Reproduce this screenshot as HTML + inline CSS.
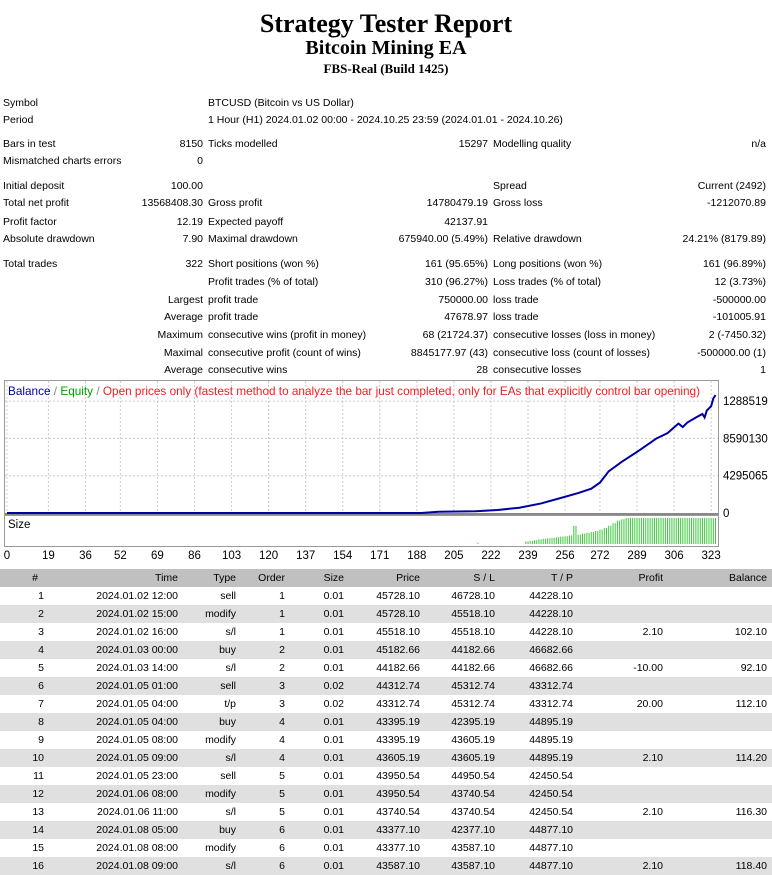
<!DOCTYPE html>
<html><head><meta charset="utf-8">
<style>
body{margin:0;width:772px;height:872px;overflow:hidden;background:#fff;font-family:"Liberation Sans",sans-serif;position:relative}
.t{position:absolute;font-size:10.5px;white-space:nowrap;line-height:12px;color:#000}
.r{text-align:right}
h1,h2,h3{position:absolute;left:0;width:772px;text-align:center;margin:0;font-family:"Liberation Serif",serif;font-weight:bold}
</style></head><body>
<h1 style="top:9px;font-size:26px">Strategy Tester Report</h1>
<h2 style="top:37px;font-size:20px">Bitcoin Mining EA</h2>
<h3 style="top:61px;font-size:13px">FBS-Real (Build 1425)</h3>
<div id="stats"></div>
<svg id="chart" width="772" height="566" style="position:absolute;left:0;top:0"></svg>
<div id="tbl"></div>
<script>
const statRows=[
[102,"Symbol","", "", "", "", "",0],
[119,"Period","", "", "", "", "",0],
[143,"Bars in test","8150","Ticks modelled","15297","Modelling quality","n/a",0],
[160,"Mismatched charts errors","0","","","","",0],
[185,"Initial deposit","100.00","","","Spread","Current (2492)",0],
[202,"Total net profit","13568408.30","Gross profit","14780479.19","Gross loss","-1212070.89",0],
[221,"Profit factor","12.19","Expected payoff","42137.91","","",0],
[238,"Absolute drawdown","7.90","Maximal drawdown","675940.00 (5.49%)","Relative drawdown","24.21% (8179.89)",0],
[263,"Total trades","322","Short positions (won %)","161 (95.65%)","Long positions (won %)","161 (96.89%)",0],
[281,"","","Profit trades (% of total)","310 (96.27%)","Loss trades (% of total)","12 (3.73%)",0],
[299,"Largest","","profit trade","750000.00","loss trade","-500000.00",1],
[316,"Average","","profit trade","47678.97","loss trade","-101005.91",1],
[334,"Maximum","","consecutive wins (profit in money)","68 (21724.37)","consecutive losses (loss in money)","2 (-7450.32)",1],
[352,"Maximal","","consecutive profit (count of wins)","8845177.97 (43)","consecutive loss (count of losses)","-500000.00 (1)",1],
[369,"Average","","consecutive wins","28","consecutive losses","1",1]];
const st=document.getElementById('stats');
function addT(parent,txt,x,y,right,name,w){
  if(!txt)return;
  const d=document.createElement('div');
  d.className='t'+(right?' r':'');
  
  
  d.textContent=txt;
  d.style.top=(y-6)+'px';
  if(right){d.style.left=(x-(w||200))+'px';d.style.width=(w||200)+'px';}
  else d.style.left=x+'px';
  parent.appendChild(d);return d;
}
statRows.forEach(r=>{
  const y=r[0]+1;
  if(r[7]) addT(st,r[1],203,y,1,'stat-label',200); else addT(st,r[1],3,y,0,'stat-label');
  addT(st,r[2],203,y,1,'stat-value',120);
  addT(st,r[3],208,y,0,'stat-label');
  addT(st,r[4],488,y,1,'stat-value',180);
  addT(st,r[5],493,y,0,'stat-label');
  addT(st,r[6],766,y,1,'stat-value',150);
});
addT(st,"BTCUSD (Bitcoin vs US Dollar)",208,103,0,'symbol-value');
addT(st,"1 Hour (H1) 2024.01.02 00:00 - 2024.10.25 23:59 (2024.01.01 - 2024.10.26)",208,120,0,'period-value');

const tradeIdx=[0,190,198,215,225,235,245,255,262,268,272,276,282,290,298,303,308,310,312,316,319,320,321,323,324,325];
const balanceM=[0,0.0001,0.15,0.2,0.35,0.6,1.1,1.8,2.3,2.8,3.5,4.8,5.9,7.2,8.6,9.2,10.3,9.9,10.4,11.0,11.4,11.0,11.8,12.3,13.2,13.57];
const sizeIdx=[216,238,240,242,244,246,248,250,252,254,256,258,260,262,264,266,268,270,272,274,276,278,280,282,284,286,288,290,292,294,296,298,300,302,304,306,308,310,312,314,316,318,320,322,324];
const sizeVal=[0.05,0.1,0.12,0.15,0.18,0.2,0.22,0.24,0.26,0.28,0.3,0.33,0.7,0.36,0.4,0.43,0.46,0.5,0.55,0.62,0.7,0.8,0.9,0.95,1,1,1,1,1,1,1,1,1,1,1,1,1,1,1,1,1,1,1,1,1];
const xTicks=[0,19,36,52,69,86,103,120,137,154,171,188,205,222,239,256,272,289,306,323];
const yTicks=[0,4295065,8590130,12885195];
const yTickLabels=["0","4295065","8590130","1288519"];

const X=t=>7+t*2.18;
const Y=v=>513-v/4295065*37.3;
const S=v=>544-v*26;
const svg=document.getElementById('chart');
const NS='http://www.w3.org/2000/svg';
function el(tag,attrs,name){const e=document.createElementNS(NS,tag);for(const k in attrs)e.setAttribute(k,attrs[k]);
 
 
 svg.appendChild(e);return e;}
el('rect',{x:4.5,y:380.5,width:714,height:134,fill:'#fff',stroke:'#999'},'main-plot-frame');
el('rect',{x:4.5,y:515.5,width:714,height:31,fill:'#fff',stroke:'#999'},'size-pane-frame');
xTicks.forEach(t=>{
  el('line',{x1:X(t),x2:X(t),y1:381,y2:513,stroke:'#ccc','stroke-dasharray':'2,2'},'grid-v');
  const tx=el('text',{x:X(t),y:559,'font-size':11.5,'text-anchor':'middle','font-family':'Liberation Sans'},'x-tick-label');tx.textContent=t;
});
yTicks.forEach((v,i)=>{
  if(i>0) el('line',{x1:5,x2:718,y1:Y(v),y2:Y(v),stroke:'#ccc','stroke-dasharray':'2,2'},'grid-h');
  const tx=el('text',{x:723,y:Y(v)+4,'font-size':11.5,'font-family':'Liberation Sans'},'y-tick-label');tx.textContent=yTickLabels[i];
});
el('line',{x1:5,x2:718,y1:514,y2:514,stroke:'#888','stroke-width':2},'zero-line');
el('polyline',{points:tradeIdx.map((t,i)=>X(t)+','+Y(balanceM[i]*1e6)).join(' '),fill:'none',stroke:'#00a000','stroke-width':1},'equity-line');
el('polyline',{points:tradeIdx.map((t,i)=>X(t)+','+Y(balanceM[i]*1e6)).join(' '),fill:'none',stroke:'#0000a0','stroke-width':2},'balance-line');
sizeIdx.forEach((t,i)=>{for(let k=0;k<2;k++){if(i===0&&k)continue;
  el('line',{x1:X(t+k),x2:X(t+k),y1:544,y2:S(sizeVal[i]),stroke:'#3cc83c','stroke-width':1},'size-bar');}});
const lg=el('text',{x:8,y:395,'font-size':12,'font-family':'Liberation Sans',textLength:692,lengthAdjust:'spacingAndGlyphs'},'legend');
lg.innerHTML='<tspan fill="#0000a0">Balance</tspan><tspan fill="#888"> / </tspan><tspan fill="#00a000">Equity</tspan><tspan fill="#888"> / </tspan><tspan fill="#f02020">Open prices only (fastest method to analyze the bar just completed, only for EAs that explicitly control bar opening)</tspan>';
const sz=el('text',{x:8,y:528,'font-size':11.5,'font-family':'Liberation Sans'},'size-label');sz.textContent='Size';

const header=["#","Time","Type","Order","Size","Price","S / L","T / P","Profit","Balance"];
const colRight=[44,178,236,285,344,420,495,573,663,767];
const rows=[
["1","2024.01.02 12:00","sell","1","0.01","45728.10","46728.10","44228.10","",""],
["2","2024.01.02 15:00","modify","1","0.01","45728.10","45518.10","44228.10","",""],
["3","2024.01.02 16:00","s/l","1","0.01","45518.10","45518.10","44228.10","2.10","102.10"],
["4","2024.01.03 00:00","buy","2","0.01","45182.66","44182.66","46682.66","",""],
["5","2024.01.03 14:00","s/l","2","0.01","44182.66","44182.66","46682.66","-10.00","92.10"],
["6","2024.01.05 01:00","sell","3","0.02","44312.74","45312.74","43312.74","",""],
["7","2024.01.05 04:00","t/p","3","0.02","43312.74","45312.74","43312.74","20.00","112.10"],
["8","2024.01.05 04:00","buy","4","0.01","43395.19","42395.19","44895.19","",""],
["9","2024.01.05 08:00","modify","4","0.01","43395.19","43605.19","44895.19","",""],
["10","2024.01.05 09:00","s/l","4","0.01","43605.19","43605.19","44895.19","2.10","114.20"],
["11","2024.01.05 23:00","sell","5","0.01","43950.54","44950.54","42450.54","",""],
["12","2024.01.06 08:00","modify","5","0.01","43950.54","43740.54","42450.54","",""],
["13","2024.01.06 11:00","s/l","5","0.01","43740.54","43740.54","42450.54","2.10","116.30"],
["14","2024.01.08 05:00","buy","6","0.01","43377.10","42377.10","44877.10","",""],
["15","2024.01.08 08:00","modify","6","0.01","43377.10","43587.10","44877.10","",""],
["16","2024.01.08 09:00","s/l","6","0.01","43587.10","43587.10","44877.10","2.10","118.40"]];
const tb=document.getElementById('tbl');
function band(y,color,name){const d=document.createElement('div');
 
 
 d.style.cssText='position:absolute;left:0;width:772px;height:18px;top:'+y+'px;background:'+color;tb.appendChild(d);}
band(569,'#c0c0c0','table-header');
header.forEach((h,i)=>{addT(tb,h,colRight[i]-(i===0?6:0),578,1,'column-header',80);});
rows.forEach((r,ri)=>{
  const y=587+ri*18;
  band(y,ri%2?'#e0e0e0':'#fff','table-row');
  r.forEach((c,i)=>addT(tb,c,colRight[i],y+9,1,'table-cell',100));
});
</script>
</body></html>
